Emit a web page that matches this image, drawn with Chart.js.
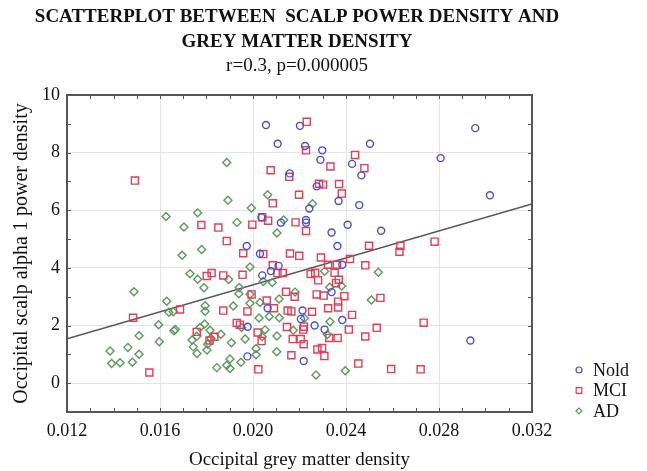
<!DOCTYPE html>
<html>
<head>
<meta charset="utf-8">
<script src="https://cdn.jsdelivr.net/npm/chart.js@4.4.1/dist/chart.umd.min.js"></script>
<style>
  html, body { margin: 0; padding: 0; background: #fff; }
</style>
</head>
<body>
<canvas id="scatterChart" width="647" height="471"></canvas>
<script>
// values: occipital grey matter density (x) vs alpha 1 power (y)
const noldX = [0.02056, 0.02202, 0.02106, 0.02224, 0.02298, 0.02290, 0.02426, 0.02158, 0.02274, 0.02368,
  0.02242, 0.02457, 0.02036, 0.02120, 0.02228, 0.02228, 0.02338, 0.02407, 0.01973, 0.02363,
  0.02956, 0.02503, 0.02807, 0.02466, 0.03019, 0.02551, 0.02384, 0.02384, 0.02935, 0.02030,
  0.02110, 0.02077, 0.02040, 0.02338, 0.02063, 0.02213, 0.02206, 0.01977, 0.02265, 0.02308,
  0.01976, 0.02218];
const noldY = [8.96, 8.93, 8.31, 8.23, 8.08, 7.75, 7.61, 7.28, 6.83, 6.32,
  6.06, 6.18, 5.76, 5.57, 5.66, 5.57, 5.23, 5.50, 4.76, 4.76,
  8.85, 8.31, 7.81, 7.21, 6.52, 5.29, 4.11, 2.19, 1.48, 4.49,
  4.07, 3.89, 3.74, 3.16, 2.60, 2.52, 2.23, 1.96, 2.00, 1.86,
  0.93, 0.77];

const mciX = [0.01492, 0.01778, 0.01851, 0.02231, 0.02228, 0.02439, 0.02333, 0.02076, 0.02156, 0.02284,
  0.02301, 0.02370, 0.02382, 0.02198, 0.02085, 0.02040, 0.02065, 0.01997, 0.02183, 0.02228,
  0.01887, 0.02479, 0.02499, 0.02634, 0.02630, 0.02781, 0.02417, 0.02483, 0.02393, 0.02548,
  0.02426, 0.02734, 0.02412, 0.02532, 0.02483, 0.02453, 0.02594, 0.02721, 0.01958, 0.02044,
  0.02159, 0.02199, 0.02292, 0.02323, 0.02361, 0.02085, 0.02105, 0.02128, 0.01801, 0.01822,
  0.01872, 0.01955, 0.02248, 0.02267, 0.02280, 0.02351, 0.02369, 0.02357, 0.01994, 0.02142,
  0.02179, 0.02274, 0.02304, 0.02059, 0.02090, 0.02366, 0.02366, 0.02323, 0.01872, 0.01976,
  0.02149, 0.02165, 0.02254, 0.01930, 0.01944, 0.02146, 0.02219, 0.02216, 0.02020, 0.01834,
  0.02037, 0.02171, 0.02205, 0.02328, 0.02364, 0.02218, 0.02277, 0.02297, 0.02165, 0.02307,
  0.02023, 0.01686, 0.01484, 0.01758, 0.01813, 0.01554];
const mciY = [7.03, 5.49, 5.40, 9.07, 8.08, 7.92, 7.52, 7.39, 7.16, 6.92,
  6.89, 6.91, 6.58, 6.54, 6.24, 5.76, 5.64, 5.50, 5.58, 5.28,
  4.93, 7.46, 4.77, 4.77, 4.56, 4.91, 4.31, 4.09, 3.02, 2.96,
  2.37, 2.10, 1.86, 1.92, 1.62, 0.68, 0.49, 0.48, 4.51, 4.48,
  4.50, 4.42, 4.36, 4.11, 4.11, 4.09, 3.82, 3.82, 3.72, 3.82,
  3.74, 3.76, 3.79, 3.83, 3.57, 3.83, 3.59, 3.47, 3.08, 3.17,
  3.00, 3.08, 3.04, 2.87, 2.60, 2.83, 2.63, 2.60, 2.52, 2.49,
  2.52, 2.49, 2.48, 2.09, 2.03, 1.95, 1.96, 1.86, 1.76, 1.61,
  1.46, 1.53, 1.53, 1.57, 1.57, 1.35, 1.17, 1.22, 0.97, 0.94,
  0.48, 2.56, 2.27, 1.78, 1.48, 0.37];

const adX = [0.01626, 0.01703, 0.01762, 0.01887, 0.02063, 0.01892, 0.02256, 0.01993, 0.01931, 0.02132,
  0.02103, 0.02539, 0.02381, 0.02509, 0.02397, 0.01779, 0.01987, 0.01895, 0.02044, 0.02083,
  0.02308, 0.02330, 0.01789, 0.01941, 0.01939, 0.01987, 0.02181, 0.01987, 0.01915, 0.02030,
  0.02112, 0.01794, 0.01794, 0.02113, 0.02070, 0.02026, 0.02221, 0.02331, 0.01792, 0.01951,
  0.02173, 0.01815, 0.02052, 0.01862, 0.01819, 0.01966, 0.02039, 0.02103, 0.02320, 0.01907,
  0.01805, 0.02013, 0.01802, 0.02102, 0.02013, 0.01901, 0.01887, 0.01901, 0.01844, 0.01948,
  0.02271, 0.01695, 0.01488, 0.01729, 0.01762, 0.01629, 0.01638, 0.01657, 0.01594, 0.01666,
  0.01660, 0.01772, 0.01510, 0.01597, 0.01758, 0.01738, 0.01743, 0.01462, 0.01385, 0.01510,
  0.01392, 0.01428, 0.01481, 0.01759];
const adY = [5.78, 5.42, 5.91, 7.66, 6.54, 6.35, 6.23, 6.08, 5.58, 5.66,
  5.21, 3.85, 3.37, 2.89, 0.43, 4.64, 4.03, 3.60, 3.53, 3.49,
  3.88, 3.33, 3.31, 3.32, 3.10, 3.09, 3.16, 2.77, 2.68, 2.80,
  2.92, 2.69, 2.50, 2.27, 2.31, 2.26, 2.25, 2.13, 2.05, 1.93,
  1.84, 1.84, 1.85, 1.70, 1.56, 1.53, 1.61, 1.64, 1.69, 1.40,
  1.35, 1.20, 1.15, 1.09, 0.99, 0.84, 0.62, 0.51, 0.54, 0.73,
  0.28, 4.44, 3.17, 3.80, 3.61, 2.84, 2.46, 2.48, 2.03, 1.86,
  1.82, 1.93, 1.65, 1.44, 1.63, 1.50, 1.26, 1.24, 1.12, 1.00,
  0.68, 0.71, 0.73, 1.03];

// regression line, end values read at both edges of the plot
const fitX = [0.012, 0.032];
const fitY = [1.54, 6.22];

const seriesNames = ['Nold', 'MCI', 'AD'];
const titleLines = ['SCATTERPLOT BETWEEN  SCALP POWER DENSITY AND', 'GREY MATTER DENSITY'];
const subtitleText = 'r=0.3, p=0.000005';
const xTitle = 'Occipital grey matter density';
const yTitle = 'Occipital scalp alpha 1 power density';

const serif = "'Liberation Serif', 'Times New Roman', serif";
const frameColor = '#555';

function toPoints(xs, ys) {
  return xs.map((x, i) => ({x: x, y: ys[i]}));
}

function isMajorX(v) { return Math.round(v * 1000) % 4 === 0; }
function isMajorY(v) { return v >= 0 && Math.round(v) % 2 === 0; }

// inward tick marks on all four sides plus the box around the plot
const frameAndTicks = {
  id: 'frameAndTicks',
  afterDatasetsDraw(chart) {
    const {ctx, chartArea: a, scales} = chart;
    ctx.save();
    ctx.strokeStyle = frameColor;
    ctx.lineWidth = 1;
    ctx.beginPath();
    scales.x.ticks.forEach(t => {
      const px = Math.round(scales.x.getPixelForValue(t.value)) + 0.5;
      ctx.moveTo(px, a.bottom); ctx.lineTo(px, a.bottom - 4);
      ctx.moveTo(px, a.top); ctx.lineTo(px, a.top + 4);
    });
    scales.y.ticks.forEach(t => {
      const py = Math.round(scales.y.getPixelForValue(t.value)) + 0.5;
      ctx.moveTo(a.left, py); ctx.lineTo(a.left + 4, py);
      ctx.moveTo(a.right, py); ctx.lineTo(a.right - 4, py);
    });
    ctx.stroke();
    ctx.lineWidth = 2;
    ctx.strokeRect(a.left, a.top, a.right - a.left, a.bottom - a.top);
    ctx.restore();
  }
};

// legend sits outside the plot, lower right
const sideLegend = {
  id: 'sideLegend',
  afterDraw(chart) {
    const ctx = chart.ctx;
    ctx.save();
    ctx.font = '18px ' + serif;
    ctx.textBaseline = 'middle';
    ctx.textAlign = 'left';
    for (let i = 0; i < 3; i++) {
      const ds = chart.data.datasets[i];
      const y = 370 + i * 20.5;
      ctx.strokeStyle = ds.borderColor;
      ctx.fillStyle = 'rgba(0,0,0,0)';
      ctx.lineWidth = 1.2;
      Chart.helpers.drawPoint(ctx, {pointStyle: ds.pointStyle, radius: ds.pointStyle === 'rect' ? 4 : 3, borderWidth: 1.2, rotation: 0}, 579, y);
      ctx.fillStyle = '#111';
      ctx.fillText(ds.label, 593, y + 1);
    }
    ctx.restore();
  }
};

const ctx = document.getElementById('scatterChart').getContext('2d');
const chart = new Chart(ctx, {
  type: 'scatter',
  data: {
    datasets: [
      {
        label: seriesNames[0],
        data: toPoints(noldX, noldY),
        pointStyle: 'circle',
        radius: 3.5,
        borderColor: '#4b4bdc',
        backgroundColor: 'rgba(0,0,0,0)',
        borderWidth: 1.4
      },
      {
        label: seriesNames[1],
        data: toPoints(mciX, mciY),
        pointStyle: 'rect',
        radius: 5,
        borderColor: '#e63c55',
        backgroundColor: 'rgba(0,0,0,0)',
        borderWidth: 1.4
      },
      {
        label: seriesNames[2],
        data: toPoints(adX, adY),
        pointStyle: 'rectRot',
        radius: 4,
        borderColor: '#5a9a5a',
        backgroundColor: 'rgba(0,0,0,0)',
        borderWidth: 1.4
      },
      {
        label: 'fit',
        data: toPoints(fitX, fitY),
        showLine: true,
        pointRadius: 0,
        borderColor: '#555',
        borderWidth: 1.5
      }
    ]
  },
  options: {
    responsive: false,
    animation: false,
    // right padding + spacer axis keep the plot at 532px while the titles centre on ~297px
    layout: {padding: {left: 0, right: 53, top: 0, bottom: 0}},
    plugins: {
      legend: {display: false},
      tooltip: {enabled: false},
      title: {
        display: true,
        text: titleLines,
        color: '#111',
        font: {family: serif, size: 19, weight: 'bold', lineHeight: 1.3},
        padding: {top: 5, bottom: 0}
      },
      subtitle: {
        display: true,
        text: subtitleText,
        color: '#111',
        font: {family: serif, size: 19, lineHeight: 1.2},
        padding: {top: 0.2, bottom: 17.6}
      }
    },
    scales: {
      x: {
        type: 'linear',
        min: 0.012,
        max: 0.032,
        afterFit: scale => { scale.height = 59; },
        ticks: {
          stepSize: 0.001,
          autoSkip: false,
          maxRotation: 0,
          padding: 8,
          color: '#111',
          font: {family: serif, size: 18},
          callback: v => isMajorX(v) ? v.toFixed(3) : ''
        },
        grid: {
          drawTicks: false,
          color: c => (c.tick && isMajorX(c.tick.value)) ? '#e4e4e4' : 'rgba(0,0,0,0)'
        },
        border: {display: false},
        title: {
          display: true,
          text: xTitle,
          color: '#111',
          font: {family: serif, size: 19},
          padding: {top: 0, bottom: 0}
        }
      },
      y: {
        type: 'linear',
        min: -1,
        max: 10,
        afterFit: scale => { scale.width = 67; },
        ticks: {
          stepSize: 1,
          autoSkip: false,
          padding: 7,
          color: '#111',
          font: {family: serif, size: 18},
          callback: v => isMajorY(v) ? String(v) : ''
        },
        grid: {
          drawTicks: false,
          color: c => (c.tick && isMajorY(c.tick.value)) ? '#e4e4e4' : 'rgba(0,0,0,0)'
        },
        border: {display: false},
        title: {
          display: true,
          text: yTitle,
          color: '#111',
          font: {family: serif, size: 20},
          padding: {top: 10, bottom: 0}
        }
      },
      spacer: {
        type: 'linear',
        position: 'right',
        afterFit: scale => { scale.width = 62; },
        ticks: {display: false},
        grid: {display: false},
        border: {display: false}
      }
    }
  },
  plugins: [frameAndTicks, sideLegend]
});
</script>
</body>
</html>
